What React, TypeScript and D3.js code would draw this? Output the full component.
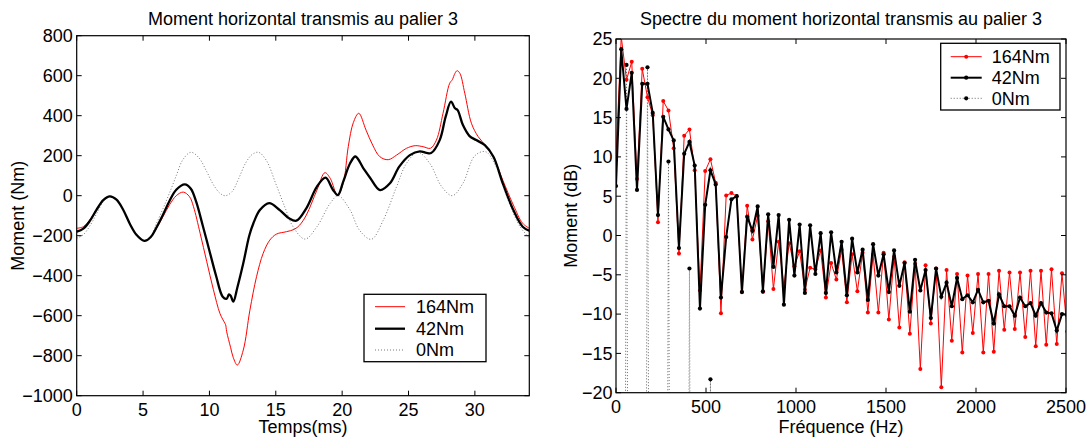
import React from 'react';
import * as d3 from 'd3';

const FONT = '"Liberation Sans", Arial, Helvetica, sans-serif';

// ---------- Left panel: time signals ----------
const t164 = [0, 0.5, 1, 1.5, 2, 2.5, 3, 3.5, 4, 4.5, 5.1, 5.6, 6, 6.5, 7, 7.5, 8.03, 8.5, 8.8, 9.3, 9.8, 10.3, 10.8, 11.15, 11.22, 11.3, 11.6, 11.8, 12.1, 12.55, 13.05, 13.55, 14.05, 14.55, 15.05, 15.8, 16.4, 16.8, 17.3, 18.1, 18.7, 19.1, 19.65, 20.08, 20.46, 20.84, 21.25, 21.8, 22.3, 22.84, 23.47, 24.1, 24.85, 25.5, 26.1, 26.65, 27.1, 27.6, 28.1, 28.3, 28.5, 28.66, 28.87, 29.24, 29.74, 30.25, 30.87, 31.5, 32.1, 32.9, 33.6, 34.1];
const m164 = [-163, -155, -120, -68, -22, -3, -20, -70, -140, -195, -226, -205, -165, -105, -45, 0, 18, -5, -55, -188, -330, -470, -590, -636, -645, -680, -760, -810, -847, -772, -572, -405, -288, -222, -192, -180, -168, -147, -97, 28, 115, 87, 3, 62, 245, 365, 412, 328, 253, 195, 180, 203, 237, 250, 245, 237, 278, 412, 562, 580, 612, 625, 612, 512, 362, 295, 245, 178, 78, -47, -138, -163];

const t42 = [0, 0.5, 1, 1.5, 2, 2.5, 3, 3.5, 4, 4.5, 5.1, 5.6, 6, 6.5, 7, 7.5, 8.15, 8.6, 9, 9.5, 10, 10.5, 11, 11.3, 11.47, 11.6, 11.8, 12.1, 12.55, 13, 13.3, 13.8, 14.5, 15.3, 16, 16.55, 17.3, 18.1, 18.75, 19.3, 19.68, 20.08, 20.6, 21, 21.6, 22.1, 22.85, 23.6, 24.3, 25.1, 25.85, 26.35, 26.7, 27.35, 27.8, 28.2, 28.5, 28.7, 29.1, 29.6, 30.1, 30.75, 31.4, 32.1, 32.9, 33.6, 34.1];
const m42 = [-180, -165, -125, -70, -22, -3, -20, -70, -140, -195, -226, -205, -160, -95, -25, 30, 57, 35, -30, -150, -275, -400, -505, -515, -493, -500, -530, -460, -338, -200, -140, -72, -37, -72, -113, -125, -63, 45, 90, 30, 3, 70, 162, 196, 137, 90, 28, 62, 145, 203, 222, 214, 213, 278, 395, 470, 437, 428, 353, 298, 278, 253, 195, 62, -72, -155, -175];

const t0 = [0, 0.5, 1, 1.5, 2, 2.5, 3, 3.5, 4, 4.5, 5.1, 5.6, 6, 6.5, 7, 7.5, 8, 8.6, 9.2, 9.8, 10.3, 10.8, 11.2, 11.7, 12.2, 12.7, 13.2, 13.7, 14.3, 15, 15.7, 16.3, 17.2, 18.1, 19.1, 19.7, 20.6, 21.3, 22.2, 23.1, 24.1, 24.85, 25.7, 26.6, 27.5, 28.3, 29.1, 30, 30.8, 31.6, 32.5, 33.4, 34.1];
const m0 = [-213, -195, -150, -90, -30, -3, -20, -70, -140, -195, -222, -200, -140, -65, 15, 100, 180, 217, 190, 120, 55, 12, 0, 20, 85, 160, 205, 217, 175, 60, -60, -155, -217, -155, -38, 0, -72, -172, -218, -122, 45, 162, 217, 162, 45, 0, 62, 200, 220, 145, -22, -155, -210];

const timeTicks = [0, 5, 10, 15, 20, 25, 30];
const momentTicks = [-1000, -800, -600, -400, -200, 0, 200, 400, 600, 800];

// ---------- Right panel: spectra (dB), one value per frequency bin ----------
const DF = 29.15; // Hz per bin
const spec164 = [10.0, 25.3, 19.8, 22.1, 7.2, 21.2, 17.6, 15.3, 1.7, 17.1, 15.9, 11.1, -2.3, 12.7, 13.5, 8.3, -7.0, 8.2, 9.7, 6.7, -9.9, 5.1, 5.4, 5.0, -7.2, 3.8, -0.5, 2.5, -7.2, 1.8, -6.8, -0.8, -6.5, -1.0, -3.9, -2.0, -6.9, -4.1, -4.3, -1.9, -7.9, -3.5, -5.6, -1.8, -8.5, -2.4, -7.1, -2.2, -9.8, -2.4, -9.8, -2.2, -10.7, -2.7, -11.7, -3.4, -12.5, -3.6, -17.0, -3.8, -11.2, -4.2, -19.3, -4.4, -13.4, -4.9, -14.9, -5.1, -12.4, -4.9, -14.9, -4.9, -14.8, -4.5, -12.0, -4.7, -11.9, -4.7, -12.9, -4.5, -14.1, -4.5, -13.9, -4.3, -13.8, -4.8, -12.2];
const spec42 = [6.3, 23.7, 16.1, 20.7, 5.8, 19.3, 19.3, 15.6, 2.6, 15.1, 13.5, 12.1, -1.6, 10.4, 11.9, 8.9, -9.3, 3.9, 8.3, 6.5, -7.9, -0.2, 4.6, 5.0, -7.2, 2.4, 0.6, 3.7, -7.1, 2.7, -4.0, 2.6, -8.8, 2.0, -5.1, 1.4, -7.3, 1.3, -4.9, 0.3, -7.3, 0.4, -4.7, -0.8, -7.6, -0.4, -4.7, -1.8, -8.2, -1.1, -5.1, -2.4, -7.2, -1.9, -6.4, -3.5, -9.7, -3.1, -7.0, -4.4, -10.5, -4.2, -7.8, -6.0, -9.0, -5.4, -8.1, -7.6, -8.5, -6.9, -8.5, -8.3, -11.2, -7.5, -9.0, -9.0, -10.2, -7.9, -9.0, -8.6, -10.2, -8.6, -9.8, -9.9, -12.1, -10.0, -10.1];
// 0Nm: only a few bins carry energy, all others are (numerically) zero
const spec0Bins = [2, 6, 10, 14, 18];
const spec0Values = [21.7, 21.4, 9.4, -4.2, -18.3];
const ZERO_DB = -200;

const freqTicks = [0, 500, 1000, 1500, 2000, 2500];
const dbTicks = [-20, -15, -10, -5, 0, 5, 10, 15, 20, 25];

const fmt = (v: number) => (v < 0 ? '\u2212' + Math.abs(v) : String(v));

type Box = { x0: number; x1: number; y0: number; y1: number };

function Frame({ b, xs, ys, xTicks, yTicks, xLabelY, yLabelX }: any) {
  const tl = 5;
  return (
    <g>
      <rect x={b.x0} y={b.y0} width={b.x1 - b.x0} height={b.y1 - b.y0} fill="none" stroke="#000" strokeWidth={1.2} />
      {xTicks.map((t: number) => (
        <g key={'x' + t}>
          <line x1={xs(t)} x2={xs(t)} y1={b.y1} y2={b.y1 - tl} stroke="#000" strokeWidth={1} />
          <line x1={xs(t)} x2={xs(t)} y1={b.y0} y2={b.y0 + tl} stroke="#000" strokeWidth={1} />
          <text x={xs(t)} y={xLabelY} textAnchor="middle" fontSize={18} fontFamily={FONT}>{fmt(t)}</text>
        </g>
      ))}
      {yTicks.map((t: number) => (
        <g key={'y' + t}>
          <line x1={b.x0} x2={b.x0 + tl} y1={ys(t)} y2={ys(t)} stroke="#000" strokeWidth={1} />
          <line x1={b.x1} x2={b.x1 - tl} y1={ys(t)} y2={ys(t)} stroke="#000" strokeWidth={1} />
          <text x={yLabelX} y={ys(t)} dy="0.35em" textAnchor="end" fontSize={18} fontFamily={FONT}>{fmt(t)}</text>
        </g>
      ))}
    </g>
  );
}

export default function App() {
  // Left panel
  const bL: Box = { x0: 76.7, x1: 529.3, y0: 35.7, y1: 395.7 };
  const xL = d3.scaleLinear().domain([0, 34.1]).range([bL.x0, bL.x1]);
  const yL = d3.scaleLinear().domain([-1000, 800]).range([bL.y1, bL.y0]);
  const lineL = d3
    .line<[number, number]>()
    .x((d) => xL(d[0]))
    .y((d) => yL(d[1]))
    .curve(d3.curveCatmullRom.alpha(0.5));
  const zip = (a: number[], b: number[]) => a.map((v, i) => [v, b[i]] as [number, number]);

  // Right panel
  const bR: Box = { x0: 616, x1: 1066, y0: 39, y1: 392.7 };
  const xR = d3.scaleLinear().domain([0, 2500]).range([bR.x0, bR.x1]);
  const yR = d3.scaleLinear().domain([-20, 25]).range([bR.y1, bR.y0]);
  const lineR = d3
    .line<number>()
    .x((_, i) => xR(i * DF))
    .y((d) => yR(d));
  const spec0 = spec164.map((_, i) => {
    const j = spec0Bins.indexOf(i);
    return j >= 0 ? spec0Values[j] : ZERO_DB;
  });

  return (
    <div style={{ position: 'absolute', left: 0, top: 0 }}>
      <svg width={1092} height={438} style={{ display: 'block', background: '#fff' }}>
        <defs>
          <clipPath id="clipL">
            <rect x={bL.x0} y={bL.y0} width={bL.x1 - bL.x0} height={bL.y1 - bL.y0} />
          </clipPath>
          <clipPath id="clipR">
            <rect x={bR.x0} y={bR.y0} width={bR.x1 - bR.x0} height={bR.y1 - bR.y0} />
          </clipPath>
        </defs>
        <rect x={0} y={0} width={1092} height={438} fill="#fff" />

        {/* ---------- Left ---------- */}
        <text x={(bL.x0 + bL.x1) / 2} y={24.5} textAnchor="middle" fontSize={18} fontFamily={FONT}>
          Moment horizontal transmis au palier 3
        </text>
        <g clipPath="url(#clipL)">
          <path d={lineL(zip(t0, m0)) || ''} fill="none" stroke="#777" strokeWidth={1} strokeDasharray="1,2" />
          <path d={lineL(zip(t164, m164)) || ''} fill="none" stroke="#ff0000" strokeWidth={1} />
          <path d={lineL(zip(t42, m42)) || ''} fill="none" stroke="#000" strokeWidth={2.3} />
        </g>
        <Frame b={bL} xs={xL} ys={yL} xTicks={timeTicks} yTicks={momentTicks} xLabelY={416} yLabelX={bL.x0 - 4} />
        <text x={(bL.x0 + bL.x1) / 2} y={432.5} textAnchor="middle" fontSize={18} fontFamily={FONT}>Temps(ms)</text>
        <text transform={`translate(24,${(bL.y0 + bL.y1) / 2}) rotate(-90)`} textAnchor="middle" fontSize={18} fontFamily={FONT}>Moment (Nm)</text>
        {/* legend left */}
        <g>
          <rect x={364} y={294.3} width={122} height={67.4} fill="#fff" stroke="#000" strokeWidth={1.3} />
          <line x1={375} x2={405} y1={306.7} y2={306.7} stroke="#ff0000" strokeWidth={1} />
          <line x1={375} x2={405} y1={328.7} y2={328.7} stroke="#000" strokeWidth={2.3} />
          <line x1={375} x2={405} y1={350} y2={350} stroke="#777" strokeWidth={1} strokeDasharray="1,2" />
          <text x={416} y={306.7} dy="0.35em" fontSize={18} fontFamily={FONT}>164Nm</text>
          <text x={416} y={328.7} dy="0.35em" fontSize={18} fontFamily={FONT}>42Nm</text>
          <text x={416} y={350} dy="0.35em" fontSize={18} fontFamily={FONT}>0Nm</text>
        </g>

        {/* ---------- Right ---------- */}
        <text x={(bR.x0 + bR.x1) / 2} y={24.5} textAnchor="middle" fontSize={18} fontFamily={FONT}>
          Spectre du moment horizontal transmis au palier 3
        </text>
        <g clipPath="url(#clipR)">
          <path d={lineR(spec0) || ''} fill="none" stroke="#666" strokeWidth={1} strokeDasharray="1,2" />
          {spec0.map((v, i) =>
            v > -25 ? <circle key={'z' + i} cx={xR(i * DF)} cy={yR(v)} r={2.1} fill="#000" /> : null
          )}
          <path d={lineR(spec164) || ''} fill="none" stroke="#ff0000" strokeWidth={1} />
          {spec164.map((v, i) => (
            <circle key={'r' + i} cx={xR(i * DF)} cy={yR(v)} r={2} fill="#ff0000" />
          ))}
          <path d={lineR(spec42) || ''} fill="none" stroke="#000" strokeWidth={2} />
          {spec42.map((v, i) => (
            <circle key={'b' + i} cx={xR(i * DF)} cy={yR(v)} r={2.1} fill="#000" />
          ))}
        </g>
        <Frame b={bR} xs={xR} ys={yR} xTicks={freqTicks} yTicks={dbTicks} xLabelY={413} yLabelX={bR.x0 - 3.5} />
        <text x={(bR.x0 + bR.x1) / 2} y={432.5} textAnchor="middle" fontSize={18} fontFamily={FONT}>Fréquence (Hz)</text>
        <text transform={`translate(577,${(bR.y0 + bR.y1) / 2}) rotate(-90)`} textAnchor="middle" fontSize={18} fontFamily={FONT}>Moment (dB)</text>
        {/* legend right */}
        <g>
          <rect x={940.7} y={43.3} width={119.3} height={66.7} fill="#fff" stroke="#000" strokeWidth={1.3} />
          <line x1={950.7} x2={981.7} y1={56.7} y2={56.7} stroke="#ff0000" strokeWidth={1} />
          <circle cx={966.2} cy={56.7} r={2} fill="#ff0000" />
          <line x1={950.7} x2={981.7} y1={77.7} y2={77.7} stroke="#000" strokeWidth={2} />
          <circle cx={966.2} cy={77.7} r={2.1} fill="#000" />
          <line x1={950.7} x2={981.7} y1={98.3} y2={98.3} stroke="#666" strokeWidth={1} strokeDasharray="1,2" />
          <circle cx={966.2} cy={98.3} r={2.1} fill="#000" />
          <text x={991.7} y={56.7} dy="0.35em" fontSize={18} fontFamily={FONT}>164Nm</text>
          <text x={991.7} y={77.7} dy="0.35em" fontSize={18} fontFamily={FONT}>42Nm</text>
          <text x={991.7} y={98.3} dy="0.35em" fontSize={18} fontFamily={FONT}>0Nm</text>
        </g>
      </svg>
    </div>
  );
}
